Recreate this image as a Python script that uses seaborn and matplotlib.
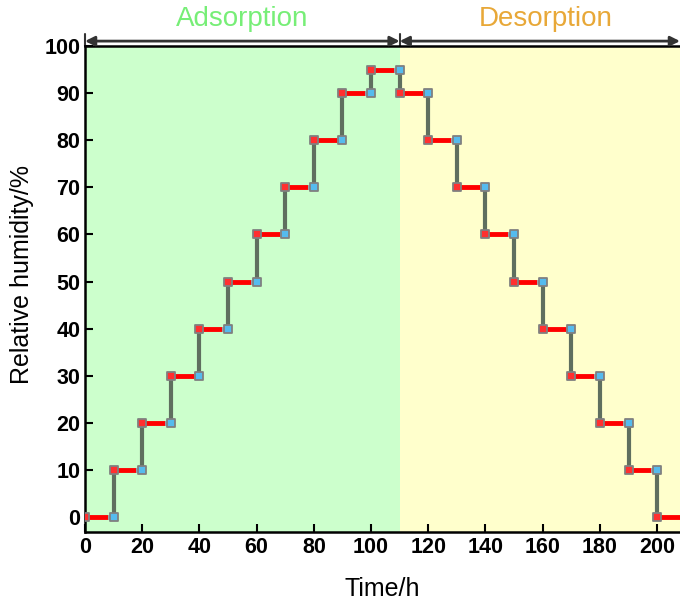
import seaborn as sns
from matplotlib import pyplot as plt
import pandas as pd

# step start times (h) and relative humidity held during each step (%)
start_time = [0, 10, 20, 30, 40, 50, 60, 70, 80, 90, 100,
              110, 120, 130, 140, 150, 160, 170, 180, 190, 200]
humidity = [0, 10, 20, 30, 40, 50, 60, 70, 80, 90, 95,
            90, 80, 70, 60, 50, 40, 30, 20, 10, 0]
step_len = 10
phase_end = 110

sns.set_style("ticks")
plt.rcParams['font.family'] = ['Liberation Sans', 'DejaVu Sans']

fig = plt.figure(figsize=(6.8, 6.01), dpi=100)
ax = fig.add_axes([0.125, 0.115, 0.875, 0.808])

xmax = 208
ax.axvspan(0, phase_end, color="#ccffcc", lw=0, zorder=0)
ax.axvspan(phase_end, xmax, color="#ffffcc", lw=0, zorder=0)

steps = pd.DataFrame({"start": start_time, "rh": humidity})
steps["end"] = steps["start"] + step_len

# vertical transitions
for i in range(1, len(steps)):
    t = steps.start[i]
    ax.plot([t, t], [steps.rh[i - 1], steps.rh[i]], color="#5f6f5f", lw=3, zorder=2)

# horizontal holds: red then a short blue tail
for _, r in steps.iterrows():
    ax.plot([r.start, r.end - 2], [r.rh, r.rh], color="#ff0000", lw=3.5, zorder=3,
            solid_capstyle="butt")
    ax.plot([r.end - 2, r.end], [r.rh, r.rh], color="#55bbee", lw=3.5, zorder=3,
            solid_capstyle="butt")

sns.scatterplot(data=steps, x="start", y="rh", marker="s", s=30, color="#ff3030",
                edgecolor="#808080", linewidth=1.3, zorder=4, ax=ax)
sns.scatterplot(data=steps, x="end", y="rh", marker="s", s=30, color="#55bbee",
                edgecolor="#808080", linewidth=1.3, zorder=4, ax=ax)

ax.set_xlim(0, xmax)
ax.set_ylim(-3.2, 100)
ax.set_xticks(range(0, 201, 20))
ax.set_yticks(range(0, 101, 10))
ax.tick_params(direction="in", length=6, width=1.5, labelsize=15.5, colors="black")
for lab in ax.get_xticklabels() + ax.get_yticklabels():
    lab.set_fontweight("bold")
for side in ["left", "bottom", "top"]:
    ax.spines[side].set_linewidth(1.8)
    ax.spines[side].set_color("black")
ax.spines["right"].set_visible(False)
ax.set_xlabel("Time/h", fontsize=18, color="black", labelpad=14)
ax.set_ylabel("Relative humidity/%", fontsize=18, color="black")
ax.yaxis.set_label_coords(-0.085, 0.53)

# phase arrows above the plot
ya = 101.1
arrow = dict(arrowstyle="<|-|>", color="#333333", lw=2, mutation_scale=14,
             shrinkA=0, shrinkB=0)
ax.annotate("", xy=(0, ya), xytext=(phase_end, ya), arrowprops=arrow,
            annotation_clip=False)
ax.annotate("", xy=(phase_end, ya), xytext=(xmax, ya), arrowprops=arrow,
            annotation_clip=False)
for xv in [0, phase_end]:
    ax.plot([xv, xv], [100, 102.6], color="#333333", lw=1.5, clip_on=False)
ax.text(55, 103, "Adsorption", color="#77ee77", fontsize=20, ha="center", va="bottom")
ax.text(161, 103, "Desorption", color="#e8a838", fontsize=20, ha="center", va="bottom")

fig.savefig("out.png", dpi=100)
